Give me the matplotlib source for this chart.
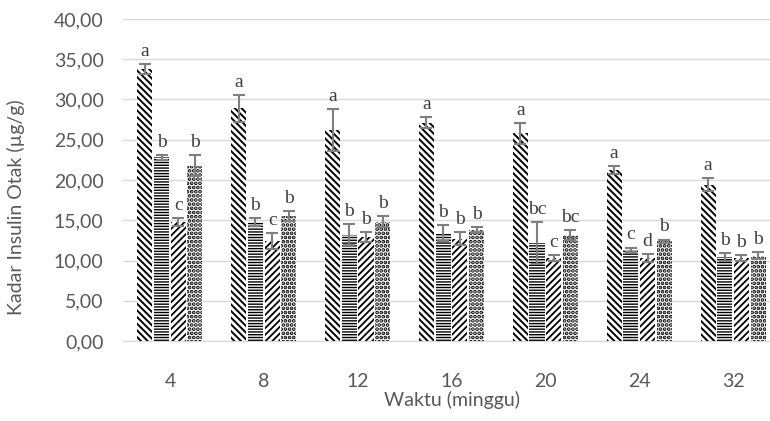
import numpy as np
import matplotlib
matplotlib.use("Agg")
import matplotlib.pyplot as plt
from matplotlib.ticker import FuncFormatter

# data
weeks = ["4", "8", "12", "16", "20", "24", "32"]
grp1 = [33.8, 28.9, 26.2, 27.1, 25.8, 21.2, 19.4]
grp2 = [22.8, 14.8, 13.2, 13.4, 12.2, 11.3, 10.4]
grp3 = [14.8, 12.4, 12.9, 12.7, 10.3, 10.3, 10.3]
grp4 = [21.8, 15.5, 14.8, 13.8, 13.2, 12.4, 10.6]
err1 = [0.6, 1.7, 2.6, 0.7, 1.3, 0.5, 0.8]
err2 = [0.3, 0.5, 1.3, 1.0, 2.6, 0.3, 0.5]
err3 = [0.5, 1.0, 0.6, 0.8, 0.4, 0.5, 0.4]
err4 = [1.3, 0.6, 0.7, 0.3, 0.6, 0.2, 0.4]
lab1 = ["a", "a", "a", "a", "a", "a", "a"]
lab2 = ["b", "b", "b", "b", "bc", "c", "b"]
lab3 = ["c", "c", "b", "b", "c", "d", "b"]
lab4 = ["b", "b", "b", "b", "bc", "b", "b"]

plt.rcParams['font.family'] = ['Lato', 'DejaVu Sans']

fig = plt.figure(figsize=(7.7, 4.21), dpi=100)
ax = fig.add_axes([123 / 770, 80 / 421, 657 / 770, 322 / 421])

x = np.arange(len(weeks))
w = 0.16
step = 0.178
# (values, errors, letters, hatch, hatch linewidth)
series = [(grp1, err1, lab1, '\\\\\\\\\\', 1.4),
          (grp2, err2, lab2, '------', 1.0),
          (grp3, err3, lab3, '/////', 1.3),
          (grp4, err4, lab4, '....', 1.9)]

for i, (vals, errs, labs, hatch, hlw) in enumerate(series):
    pos = x + (i - 1.5) * step
    with plt.rc_context({'hatch.linewidth': hlw}):
        ax.bar(pos, vals, width=w, color='white', edgecolor='black',
               linewidth=0, hatch=hatch, zorder=2)
    ax.errorbar(pos, vals, yerr=errs, fmt='none', ecolor='#7f7f7f',
                elinewidth=1.5, capsize=4.5, capthick=1.5, zorder=3)
    for p, v, e, t in zip(pos, vals, errs, labs):
        ax.annotate(t, (p, v + e), xytext=(0, 3), textcoords='offset points',
                    ha='center', va='bottom', fontsize=14,
                    family='Liberation Serif', color='#404040')

ax.set_ylim(0, 40)
ax.set_xlim(-0.5, len(weeks) - 0.5)
ax.set_yticks(np.arange(0, 41, 5))
ax.yaxis.set_major_formatter(FuncFormatter(lambda v, _: f"{v:.2f}".replace('.', ',')))
ax.set_xticks(x)
ax.set_xticklabels(weeks)
ax.grid(axis='y', color='#d9d9d9', linewidth=1, zorder=0)
ax.set_axisbelow(True)
for s in ['top', 'right', 'left']:
    ax.spines[s].set_visible(False)
ax.spines['bottom'].set_color('#d9d9d9')
ax.tick_params(axis='both', length=0, labelsize=14, colors='#595959')
ax.tick_params(axis='x', pad=23)
ax.tick_params(axis='y', pad=14)

ax.set_ylabel("Kadar Insulin Otak (µg/g)", fontsize=14, color='#595959')
ax.yaxis.set_label_coords(-0.149, 0.416)
ax.set_xlabel("Waktu (minggu)", fontsize=14, color='#595959')
ax.xaxis.set_label_coords(0.5, -0.155)

fig.savefig("out.png", dpi=100)
